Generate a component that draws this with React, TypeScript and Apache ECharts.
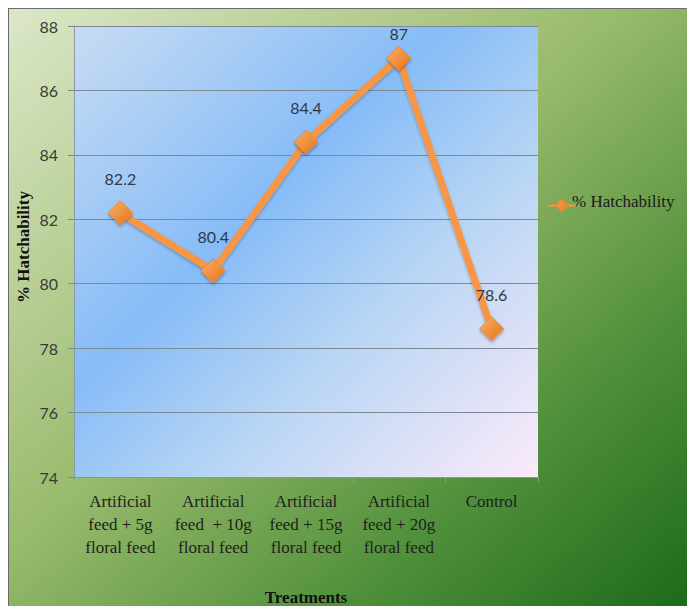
import React, { useEffect, useRef } from "react";
import * as echarts from "echarts";

const categories = [
  "Artificial\nfeed + 5g\nfloral feed",
  "Artificial\nfeed  + 10g\nfloral feed",
  "Artificial\nfeed + 15g\nfloral feed",
  "Artificial\nfeed + 20g\nfloral feed",
  "Control",
];
const hatchability = [82.2, 80.4, 84.4, 87, 78.6];
const seriesName = "% Hatchability";
const xTitle = "Treatments";
const yTitle = "% Hatchability";
const yMin = 74;
const yMax = 88;
const yInterval = 2;

const numFont = "Lato";
const serifName = "Liberation Serif";

export default function App() {
  const ref = useRef<HTMLDivElement>(null);
  useEffect(() => {
    if (!ref.current) return;
    const chart = echarts.init(ref.current, null, { renderer: "svg" });
    const orange = "#f79646";
    chart.setOption({
      animation: false,
      backgroundColor: new echarts.graphic.LinearGradient(0, 0, 1, 1, [
        { offset: 0, color: "#dce7c8" },
        { offset: 0.45, color: "#99bb6c" },
        { offset: 0.75, color: "#4f8f3a" },
        { offset: 1, color: "#1c6a1a" },
      ]),
      grid: {
        left: 65,
        top: 17,
        right: 150,
        bottom: 130,
        show: true,
        borderWidth: 0,
        backgroundColor: new echarts.graphic.LinearGradient(0, 0, 1, 1, [
          { offset: 0, color: "#c8dcf3" },
          { offset: 0.4, color: "#86bcf7" },
          { offset: 0.65, color: "#b9d6f4" },
          { offset: 1, color: "#fceafa" },
        ]),
      },
      legend: {
        data: [seriesName],
        left: 533,
        top: 185,
        itemWidth: 28,
        itemHeight: 14,
        itemGap: 3,
        formatter: () => " ",
        textStyle: { fontSize: 12, color: "rgba(0,0,0,0)" },
      },
      xAxis: {
        type: "category",
        data: categories,
        boundaryGap: true,
        axisLine: { show: true, lineStyle: { color: "#8a9a8a", width: 1 } },
        axisTick: { show: true, length: 5, lineStyle: { color: "#8a9a8a" } },
        axisLabel: { show: false },
      },
      yAxis: {
        type: "value",
        min: yMin,
        max: yMax,
        interval: yInterval,
        axisLine: { show: true, lineStyle: { color: "#8a9aa8", width: 1 } },
        axisTick: { show: true, length: 6, lineStyle: { color: "#7a8794" } },
        axisLabel: {
          margin: 16,
          fontFamily: numFont,
          fontSize: 16,
          color: "#3a3a3a",
        },
        splitLine: { show: true, lineStyle: { color: "#7d8a96", width: 1.2 } },
      },
      series: [
        {
          name: seriesName,
          type: "line",
          data: hatchability.map((v) =>
            v === yMax - 1 ? { value: v, label: { distance: 4 } } : v
          ),
          symbol: "diamond",
          symbolSize: 24,
          lineStyle: {
            color: orange,
            width: 7,
            shadowColor: "rgba(0,0,0,0.25)",
            shadowBlur: 3,
            shadowOffsetY: 2,
          },
          itemStyle: {
            color: new echarts.graphic.LinearGradient(0, 0, 1, 1, [
              { offset: 0, color: "#fbb068" },
              { offset: 1, color: "#e27418" },
            ]),
            borderColor: "#f08a30",
            borderWidth: 1,
            shadowColor: "rgba(0,0,0,0.3)",
            shadowBlur: 3,
            shadowOffsetY: 2,
          },
          label: {
            show: true,
            position: "top",
            distance: 14,
            fontFamily: numFont,
            fontSize: 16,
            color: "#2f3a45",
          },
        },
      ],
    });

    const axisBottom = chart.convertToPixel({ yAxisIndex: 0 }, yMin) as number;
    const catLabels = categories.map((c) => {
      const x = chart.convertToPixel({ xAxisIndex: 0 }, c) as number;
      return {
        type: "text",
        x,
        y: axisBottom + 13,
        style: {
          text: c,
          fontFamily: serifName,
          fontSize: 17,
          lineHeight: 23,
          fill: "#1e1e1e",
          textAlign: "center",
          textVerticalAlign: "top",
        },
      };
    });

    chart.setOption({
      graphic: [
        ...catLabels,
        {
          type: "text",
          x: 563,
          y: 192,
          style: {
            text: seriesName,
            fontFamily: serifName,
            fontSize: 17,
            fill: "#1a1a1a",
            textAlign: "left",
            textVerticalAlign: "middle",
          },
        },
        {
          type: "text",
          x: 297,
          y: 580,
          style: {
            text: xTitle,
            fontFamily: serifName,
            fontWeight: "bold",
            fontSize: 17,
            fill: "#111",
            textAlign: "center",
            textVerticalAlign: "top",
          },
        },
        {
          type: "text",
          x: 14,
          y: 238,
          rotation: Math.PI / 2,
          style: {
            text: yTitle,
            fontFamily: serifName,
            fontWeight: "bold",
            fontSize: 17,
            fill: "#111",
            textAlign: "center",
            textVerticalAlign: "middle",
          },
        },
      ],
    });
    return () => chart.dispose();
  }, []);
  return (
    <div
      style={{
        position: "fixed",
        left: 8,
        top: 8,
        width: 679,
        height: 598,
        boxSizing: "border-box",
        borderLeft: "1px solid #6b6b6b",
        borderTop: "1px solid #6b6b6b",
        overflow: "hidden",
      }}
    >
      <div ref={ref} style={{ width: 679, height: 598 }} />
    </div>
  );
}
